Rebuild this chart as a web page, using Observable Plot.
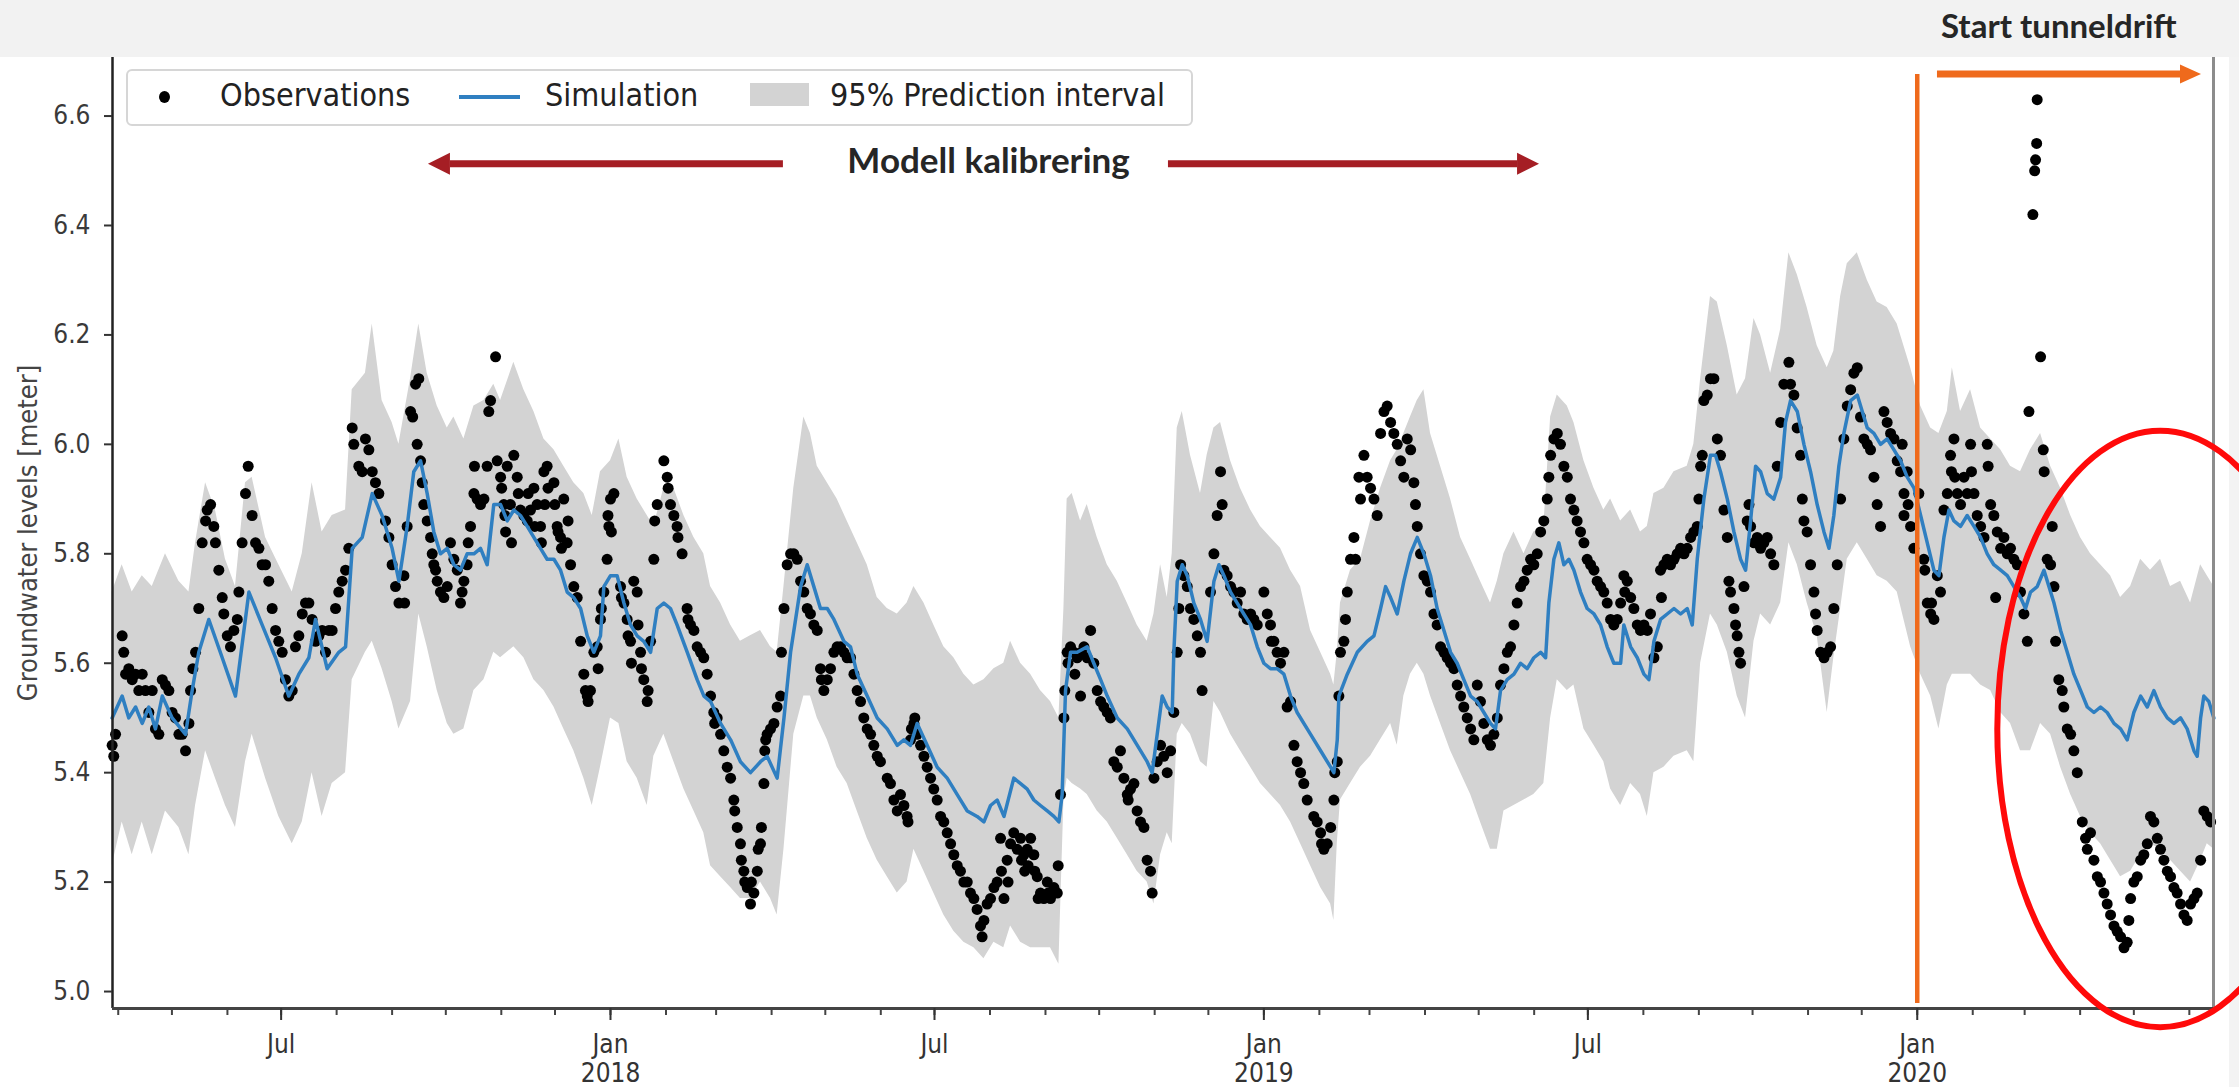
<!DOCTYPE html>
<html><head><meta charset="utf-8">
<script src="https://cdn.jsdelivr.net/npm/d3@7"></script>
<script src="https://cdn.jsdelivr.net/npm/@observablehq/plot@0.6"></script>
<style>
html,body{margin:0;padding:0;background:#fff;}
#page{position:relative;width:2239px;height:1087px;overflow:hidden;background:#fff;}
#header{position:absolute;left:0;top:0;width:2239px;height:57px;background:#f2f2f2;}
#strip{position:absolute;left:2229px;top:57px;width:10px;height:1030px;background:#f3f3f3;}
#tunnel{position:absolute;left:1941px;top:5px;font:700 33px Lato,'Liberation Sans',sans-serif;color:#262626;white-space:nowrap;}
#chart{position:absolute;left:0;top:57px;}
#chart svg text{font-stretch:condensed;}
#legend{position:absolute;left:126px;top:69px;width:1063px;height:53px;border:2px solid #d6d6d6;border-radius:6px;background:rgba(255,255,255,0.85);}
.lg{position:absolute;top:6px;font-family:'DejaVu Sans Condensed','DejaVu Sans',sans-serif;font-stretch:condensed;font-size:32px;line-height:37px;color:#222;white-space:nowrap;}
</style></head>
<body>
<div id="page">
  <div id="strip"></div>
  <div id="chart"></div>
  <div id="header"><span id="tunnel">Start tunneldrift</span></div>
  <div id="legend">
    <div style="position:absolute;left:31px;top:20px;width:11px;height:12px;border-radius:50%;background:#000"></div>
    <div class="lg" style="left:92px">Observations</div>
    <div style="position:absolute;left:331px;top:24px;width:61px;height:4px;background:#2f7fc1"></div>
    <div class="lg" style="left:417px">Simulation</div>
    <div style="position:absolute;left:622px;top:12px;width:59px;height:23px;background:#d3d3d3"></div>
    <div class="lg" style="left:702px">95% Prediction interval</div>
  </div>
</div>
<script>
// ---- time helper: values are given as days since 2018-01-01 ----
const DAY0 = Date.UTC(2018, 0, 1);
const toDate = d => new Date(DAY0 + d * 864e5);

// ---- data ----
const simulation = [
[-278.4,5.50],[-272.8,5.54],[-269.1,5.50],[-265.3,5.52],[-261.6,5.49],[-257.9,5.52],[-254.2,5.48],[-250.4,5.54],[-244.9,5.50],[-237.4,5.47],[-233.7,5.55],[-230.0,5.62],[-224.4,5.68],[-216.9,5.61],[-209.5,5.54],[-202.0,5.73],[-194.6,5.67],[-187.1,5.61],[-179.7,5.54],[-174.1,5.58],[-168.5,5.61],[-164.8,5.68],[-158.3,5.59],[-151.8,5.62],[-148.0,5.63],[-144.3,5.81],[-138.7,5.83],[-133.1,5.91],[-127.6,5.87],[-122.0,5.81],[-118.2,5.75],
[-113.6,5.85],[-109.9,5.95],[-106.1,5.97],[-102.4,5.91],[-98.7,5.84],[-95.0,5.80],[-91.2,5.81],[-87.5,5.78],[-83.8,5.77],[-80.1,5.80],[-76.3,5.80],[-72.6,5.81],[-68.9,5.78],[-65.2,5.89],[-61.4,5.89],[-57.7,5.86],[-54.0,5.88],[-50.3,5.87],[-46.5,5.85],[-42.8,5.83],[-39.1,5.81],[-35.4,5.79],[-31.6,5.79],[-27.9,5.77],[-24.2,5.73],[-20.5,5.72],[-16.7,5.70],[-13.0,5.65],[-9.3,5.62],[-5.6,5.65],[-3.7,5.74],[0.0,5.76],[3.7,5.76],[7.5,5.71],[11.2,5.67],[14.9,5.65],[18.6,5.64],[22.4,5.62],[26.1,5.70],[29.8,5.71],[33.5,5.70],[37.2,5.67],[42.9,5.62],[48.4,5.57],[52.2,5.54],
[55.9,5.53],[61.5,5.49],[67.1,5.46],[72.6,5.42],[78.2,5.40],[83.8,5.42],[87.5,5.43],[93.1,5.39],[96.9,5.50],[100.6,5.62],[106.2,5.74],[109.9,5.78],[113.6,5.74],[117.3,5.70],[121.1,5.70],[124.8,5.68],[130.4,5.64],[134.1,5.63],[137.8,5.58],[143.4,5.54],[149.0,5.50],[154.6,5.48],[160.2,5.45],[163.9,5.46],[167.6,5.45],[171.3,5.49],[176.9,5.45],[182.5,5.41],[188.1,5.39],[193.7,5.36],[199.3,5.33],[204.8,5.32],[208.6,5.31],[212.3,5.34],[216.0,5.35],[219.8,5.32],
[225.3,5.39],[229.1,5.38],[232.8,5.37],[236.5,5.35],[240.2,5.34],[244.0,5.33],[247.7,5.32],[250.5,5.31],[252.3,5.36],[254.2,5.55],[257.0,5.62],[260.7,5.62],[266.3,5.63],[270.0,5.60],[273.8,5.57],[277.5,5.54],[283.1,5.50],[288.7,5.48],[294.3,5.45],[299.8,5.42],[302.6,5.40],[305.4,5.47],[308.2,5.54],[311.0,5.52],[313.8,5.51],[314.7,5.62],[316.6,5.75],[319.4,5.78],[322.2,5.76],[325.9,5.71],[329.6,5.68],[333.3,5.64],[337.1,5.75],[339.9,5.78],[342.7,5.76],[346.4,5.73],[350.1,5.71],[353.8,5.69],[357.6,5.67],[361.3,5.63],[365.0,5.60],[368.7,5.59],[372.4,5.59],[376.2,5.58],[379.9,5.54],[383.6,5.51],
[391.1,5.47],[396.7,5.44],[402.3,5.41],[404.1,5.40],[406.0,5.46],[406.9,5.54],[411.6,5.58],[417.2,5.62],[422.7,5.64],[426.5,5.65],[430.2,5.70],[433.0,5.74],[435.8,5.72],[439.5,5.69],[443.2,5.75],[446.9,5.80],[450.7,5.83],[454.4,5.80],[458.1,5.76],[461.8,5.70],[465.6,5.66],[469.3,5.62],[473.0,5.60],[476.7,5.57],[480.5,5.54],[484.2,5.53],[487.9,5.51],[491.6,5.49],[494.4,5.48],[497.2,5.55],[500.9,5.57],[504.7,5.58],[508.4,5.60],[512.1,5.59],[515.8,5.61],[519.6,5.62],[522.4,5.61],[524.2,5.71],[527.0,5.79],[529.8,5.82],[532.6,5.78],[535.4,5.79],[538.2,5.77],[541.9,5.73],[545.6,5.70],[549.4,5.69],[553.1,5.67],
[556.8,5.63],[560.5,5.60],[564.3,5.60],[566.1,5.67],[569.9,5.63],[573.6,5.61],[577.3,5.58],[580.1,5.57],[582.9,5.64],[586.6,5.68],[590.3,5.69],[594.1,5.70],[597.8,5.69],[601.5,5.70],[604.3,5.67],[607.1,5.79],[610.8,5.90],[614.5,5.98],[617.3,5.98],[620.1,5.95],[623.9,5.90],[627.6,5.84],[631.3,5.79],[634.1,5.77],[636.9,5.86],[639.7,5.96],[642.5,5.95],[646.2,5.91],[649.9,5.90],[653.7,5.94],[656.4,6.04],[659.2,6.08],[663.0,6.06],[666.7,6.00],[670.4,5.95],[674.1,5.89],[677.9,5.84],[680.7,5.81],[683.4,5.87],[686.2,5.96],[689.0,6.02],[692.8,6.08],[696.5,6.09],[699.3,6.06],[702.1,6.03],[705.8,6.02],[709.5,6.00],[713.2,6.01],[717.0,5.99],[720.7,5.97],
[724.4,5.94],[728.2,5.92],[731.9,5.87],[735.6,5.82],[739.3,5.77],[742.1,5.76],[744.9,5.83],[747.7,5.88],[750.5,5.86],[754.2,5.85],[757.9,5.87],[761.7,5.85],[765.4,5.83],[769.1,5.80],[772.8,5.78],[776.6,5.77],[780.3,5.76],[784.0,5.74],[787.7,5.72],[790.5,5.70],[793.3,5.73],[797.0,5.74],[800.8,5.77],[803.6,5.74],[806.4,5.71],[810.1,5.66],[813.8,5.62],[817.5,5.58],[821.3,5.55],[825.0,5.52],[828.7,5.51],[832.4,5.52],[836.1,5.51],[839.9,5.49],[843.6,5.48],[847.3,5.46],[851.0,5.51],[854.8,5.54],[858.5,5.52],[862.2,5.55],[865.9,5.52],[869.7,5.50],[873.4,5.49],[877.1,5.50],[880.8,5.48],[884.6,5.44],[886.4,5.43],[888.3,5.50],[890.1,5.54],[892.9,5.53],[895.7,5.50]
];

// [day, lower, upper] of the 95% prediction interval
const interval = [
[-278.4,5.23,5.73],[-272.8,5.31,5.78],[-267.2,5.25,5.73],[-261.6,5.31,5.76],[-256.0,5.25,5.74],[-248.6,5.33,5.80],[-241.1,5.30,5.75],[-235.5,5.25,5.73],[-231.8,5.34,5.82],[-226.2,5.44,5.93],[-220.7,5.39,5.88],[-215.1,5.34,5.79],[-209.5,5.30,5.74],[-203.9,5.42,5.93],[-200.2,5.47,5.94],[-192.7,5.39,5.83],[-185.3,5.32,5.78],[-177.8,5.27,5.73],[-172.2,5.31,5.80],[-166.7,5.40,5.93],[-161.1,5.32,5.84],[-155.5,5.38,5.87],[-148.0,5.40,5.88],[-144.3,5.57,6.10],[-136.9,5.62,6.13],[-133.1,5.64,6.22],[-127.6,5.59,6.08],[-122.0,5.53,6.04],[-118.2,5.48,6.00],
[-111.7,5.53,6.12],[-107.1,5.69,6.22],[-102.4,5.63,6.13],[-96.8,5.55,6.07],[-91.2,5.49,6.03],[-87.5,5.47,6.05],[-81.9,5.48,6.01],[-76.3,5.55,6.07],[-70.7,5.57,6.08],[-65.2,5.62,6.11],[-61.4,5.61,6.08],[-54.0,5.63,6.15],[-48.4,5.61,6.10],[-42.8,5.57,6.06],[-37.2,5.55,6.01],[-31.6,5.52,5.99],[-26.1,5.48,5.96],[-20.5,5.44,5.93],[-14.9,5.39,5.91],[-10.2,5.34,5.87],[-5.6,5.41,5.95],[0.0,5.50,5.97],[4.7,5.49,6.01],[9.3,5.42,5.94],[14.9,5.39,5.90],[20.5,5.34,5.87],[24.2,5.43,5.85],[29.8,5.47,5.92],[35.4,5.42,5.92],[41.0,5.37,5.87],[46.6,5.33,5.83],[52.1,5.29,5.80],
[55.9,5.23,5.74],[61.5,5.21,5.71],[67.1,5.19,5.67],[72.6,5.17,5.64],[78.2,5.17,5.65],[83.8,5.20,5.66],[89.4,5.17,5.63],[93.1,5.14,5.62],[96.9,5.26,5.74],[102.4,5.47,5.92],[108.0,5.54,6.05],[111.7,5.54,6.02],[115.5,5.50,5.96],[121.1,5.46,5.93],[126.6,5.41,5.90],[132.2,5.38,5.86],[137.8,5.33,5.82],[143.4,5.28,5.78],[149.0,5.24,5.72],[154.6,5.21,5.70],[160.2,5.18,5.69],[165.7,5.20,5.71],[169.5,5.26,5.74],[175.1,5.22,5.71],[180.6,5.18,5.67],[186.2,5.14,5.63],[191.8,5.11,5.61],[197.4,5.09,5.58],[203.0,5.08,5.56],[208.6,5.06,5.57],[214.2,5.09,5.59],[219.7,5.08,5.60],
[223.5,5.12,5.64],[229.1,5.09,5.60],[234.7,5.08,5.58],[240.2,5.08,5.55],[245.8,5.08,5.53],[250.5,5.05,5.50],[253.3,5.35,5.70],[255.1,5.39,5.90],[257.9,5.38,5.91],[262.6,5.37,5.86],[266.3,5.36,5.89],[271.9,5.33,5.83],[277.5,5.31,5.78],[283.1,5.28,5.75],[288.7,5.25,5.71],[294.2,5.22,5.67],[299.8,5.20,5.64],[303.6,5.16,5.69],[307.3,5.25,5.78],[311.0,5.29,5.72],[313.8,5.27,5.80],[316.6,5.47,6.03],[319.4,5.49,6.06],[324.0,5.47,5.98],[329.6,5.42,5.91],[333.3,5.41,5.98],[337.1,5.53,6.03],[340.8,5.51,6.04],[346.4,5.47,5.97],[351.9,5.44,5.92],[357.6,5.41,5.88],[363.1,5.38,5.85],[368.7,5.36,5.83],[374.3,5.34,5.81],[379.9,5.31,5.77],[385.5,5.27,5.74],
[391.1,5.23,5.66],[396.7,5.19,5.62],[402.3,5.16,5.58],[404.1,5.13,5.56],[406.0,5.27,5.62],[407.8,5.35,5.71],[413.4,5.38,5.77],[419.0,5.41,5.79],[424.6,5.43,5.86],[430.2,5.46,5.92],[435.8,5.49,5.97],[439.5,5.45,5.99],[443.2,5.54,6.02],[446.9,5.58,6.05],[450.7,5.60,6.08],[454.4,5.58,6.10],[458.1,5.54,6.02],[463.7,5.49,5.96],[469.3,5.44,5.90],[474.9,5.40,5.83],[480.5,5.36,5.79],[486.0,5.31,5.75],[491.6,5.26,5.71],[495.4,5.26,5.75],[499.1,5.33,5.80],[504.7,5.34,5.84],[510.3,5.35,5.80],[515.8,5.36,5.84],[521.4,5.38,5.85],[525.2,5.50,6.05],[528.9,5.57,6.09],[534.5,5.55,6.07],[538.2,5.56,6.04],[543.8,5.48,5.97],[549.4,5.45,5.92],[554.9,5.42,5.88],
[558.7,5.37,5.90],[564.3,5.34,5.86],[569.9,5.38,5.88],[575.4,5.36,5.84],[579.2,5.32,5.85],[582.9,5.40,5.91],[588.5,5.41,5.92],[594.1,5.43,5.95],[601.5,5.44,5.96],[605.2,5.42,6.00],[609.0,5.60,6.12],[614.5,5.69,6.27],[618.3,5.67,6.26],[623.9,5.62,6.18],[629.4,5.54,6.09],[634.1,5.50,6.12],[638.8,5.64,6.23],[642.5,5.69,6.20],[648.1,5.67,6.13],[653.7,5.71,6.21],[658.3,5.82,6.35],[663.0,5.78,6.31],[668.5,5.71,6.25],[674.1,5.65,6.18],[679.7,5.51,6.14],[683.4,5.61,6.17],[687.2,5.70,6.27],[690.9,5.79,6.33],[696.5,5.82,6.35],[702.1,5.79,6.30],[707.6,5.76,6.26],[713.2,5.75,6.25],[718.8,5.73,6.22],
[726.3,5.63,6.14],[731.9,5.58,6.07],[737.5,5.54,6.03],[742.1,5.48,6.02],[746.8,5.56,6.06],[749.6,5.58,6.14],[754.2,5.58,6.06],[759.8,5.58,6.10],[765.4,5.56,6.03],[771.0,5.55,6.01],[776.6,5.51,5.99],[782.1,5.49,5.96],[787.7,5.44,5.95],[793.3,5.44,5.99],[798.9,5.49,6.02],[804.5,5.47,5.96],[810.1,5.41,5.92],[815.7,5.36,5.87],[821.2,5.32,5.83],[826.8,5.29,5.80],[832.4,5.27,5.78],[838.0,5.24,5.76],[843.6,5.21,5.72],[849.2,5.22,5.74],[854.8,5.25,5.79],[860.3,5.27,5.77],[865.9,5.26,5.79],[871.5,5.24,5.74],[877.1,5.22,5.75],[882.7,5.20,5.71],[888.3,5.24,5.78],[892.0,5.27,5.76],[895.7,5.26,5.74]
];

const observations = [
[-278.4,5.45],[-277.5,5.43],[-276.5,5.47],[-272.8,5.65],[-271.9,5.62],[-270.9,5.58],[-269.1,5.59],[-267.2,5.57],[-265.3,5.58],[-263.5,5.55],[-261.6,5.58],[-259.8,5.55],[-257.9,5.51],[-256.0,5.55],[-254.2,5.48],[-252.3,5.47],[-250.4,5.57],[-248.6,5.56],[-246.7,5.55],[-244.9,5.51],[-243.0,5.50],[-241.1,5.47],[-239.3,5.47],[-237.4,5.44],[-235.5,5.49],[-234.6,5.55],[-233.3,5.59],[-231.8,5.62],[-230.0,5.70],[-228.1,5.82],[-226.2,5.86],[-225.3,5.88],[-223.4,5.89],[-221.6,5.85],[-220.7,5.82],[-218.8,5.77],[-216.9,5.72],[-216.0,5.69],[-214.1,5.65],[-212.3,5.63],[-210.4,5.66],[-208.5,5.68],[-207.6,5.73],[-205.8,5.82],[-203.9,5.91],[-202.4,5.96],[-200.2,5.87],[-198.3,5.82],[-196.4,5.81],[-194.6,5.78],[-192.7,5.78],[-190.9,5.75],[-189.0,5.70],[-187.1,5.66],[-185.3,5.64],[-183.4,5.62],[-181.6,5.57],[-179.7,5.54],[-177.8,5.55],[-176.0,5.63],[-174.1,5.65],[-172.2,5.69],[-170.4,5.71],[-168.5,5.71],[-166.7,5.68],[-164.8,5.64],[-162.9,5.65],[-161.1,5.66],[-159.2,5.62],[-157.3,5.66],[-155.5,5.66],[-153.6,5.70],[-151.8,5.73],[-149.9,5.75],[-148.0,5.77],[-146.2,5.81],[-144.3,6.03],[-143.4,6.00],[-140.6,5.96],[-138.7,5.95],[-136.9,6.01],[-135.0,5.99],[-133.1,5.95],[-131.3,5.93],[-129.4,5.91],[-125.7,5.86],[-123.8,5.83],[-122.0,5.78],[-120.1,5.74],[-118.2,5.71],
[-115.4,5.76],[-115.0,5.71],[-113.6,5.85],[-111.7,6.06],[-110.5,6.05],[-108.9,6.11],[-108.0,6.00],[-107.1,6.12],[-106.1,5.97],[-105.2,5.93],[-104.3,5.89],[-102.4,5.86],[-100.5,5.83],[-99.6,5.80],[-98.7,5.78],[-97.7,5.77],[-96.8,5.75],[-95.0,5.73],[-93.1,5.72],[-91.2,5.74],[-89.4,5.82],[-87.5,5.79],[-85.6,5.77],[-83.8,5.71],[-82.9,5.73],[-81.9,5.75],[-80.1,5.78],[-79.5,5.82],[-78.2,5.85],[-76.3,5.91],[-76.0,5.96],[-74.5,5.90],[-72.6,5.89],[-70.7,5.90],[-68.9,5.96],[-68.0,6.06],[-67.0,6.08],[-64.2,6.16],[-63.3,5.97],[-61.4,5.94],[-60.8,5.92],[-59.6,5.89],[-59.0,5.87],[-58.6,5.84],[-57.7,5.96],[-55.9,5.89],[-55.3,5.82],[-54.0,5.98],[-52.1,5.94],[-51.5,5.91],[-50.3,5.88],[-48.4,5.87],[-46.5,5.86],[-46.0,5.91],[-44.7,5.88],[-42.8,5.92],[-42.3,5.85],[-41.0,5.89],[-39.1,5.85],[-38.6,5.82],[-37.2,5.95],[-36.7,5.89],[-35.4,5.96],[-34.9,5.92],[-31.6,5.93],[-31.1,5.89],[-29.8,5.85],[-29.3,5.84],[-27.9,5.83],[-27.4,5.81],[-26.1,5.90],[-24.2,5.82],[-23.7,5.86],[-22.3,5.78],[-20.5,5.74],[-18.6,5.72],[-16.7,5.64],[-14.9,5.58],[-14.0,5.55],[-13.0,5.54],[-12.5,5.53],[-11.2,5.55],[-9.3,5.62],[-7.4,5.63],[-6.9,5.59],[-5.6,5.68],[-5.1,5.70],[-3.7,5.73],[-1.9,5.79],[-1.4,5.87],[-0.9,5.85],[0.0,5.90],[0.5,5.84],[1.9,5.91],[5.6,5.74],[6.1,5.72],[7.5,5.71],[9.3,5.68],[9.8,5.65],[11.2,5.64],[11.7,5.60],[13.0,5.75],[14.9,5.73],[15.4,5.67],[16.8,5.62],[17.3,5.59],[18.6,5.57],[20.5,5.53],[21.0,5.55],[22.4,5.64],[24.2,5.79],[24.7,5.86],[26.1,5.89],[29.8,5.97],[31.7,5.94],[32.2,5.92],[33.5,5.89],[35.4,5.87],[37.2,5.85],[37.7,5.83],[40.0,5.80],[42.8,5.70],[43.3,5.68],[44.7,5.67],[46.6,5.66],[48.4,5.63],[50.3,5.62],[52.1,5.61],[54.0,5.58],
[55.9,5.54],[57.7,5.51],[58.2,5.49],[59.6,5.50],[61.5,5.47],[63.3,5.44],[65.2,5.41],[67.1,5.39],[68.9,5.35],[69.4,5.33],[70.8,5.30],[72.6,5.27],[73.1,5.24],[74.5,5.22],[75.0,5.20],[76.4,5.19],[78.2,5.16],[78.7,5.20],[80.1,5.18],[82.0,5.22],[82.5,5.26],[83.8,5.27],[84.3,5.30],[85.7,5.38],[86.2,5.44],[86.7,5.46],[87.5,5.47],[89.4,5.48],[91.3,5.49],[93.1,5.52],[95.0,5.54],[95.5,5.62],[96.9,5.70],[98.7,5.78],[100.6,5.80],[102.4,5.80],[104.3,5.79],[106.2,5.75],[108.0,5.73],[109.9,5.70],[111.7,5.69],[113.6,5.67],[115.5,5.66],[117.3,5.59],[117.8,5.57],[119.2,5.55],[121.1,5.57],[122.9,5.59],[124.8,5.62],[126.6,5.63],[128.5,5.63],[130.4,5.62],[132.2,5.61],[134.1,5.61],[136.0,5.58],[137.8,5.55],[139.7,5.53],[141.5,5.50],[143.4,5.48],[145.3,5.47],[147.1,5.45],[149.0,5.43],[150.8,5.42],[154.6,5.39],[156.4,5.38],[158.3,5.35],[160.2,5.33],[162.0,5.36],[163.9,5.34],[165.7,5.32],[166.2,5.31],[167.6,5.46],[168.1,5.48],[169.5,5.49],[170.0,5.50],[171.3,5.47],[173.2,5.45],[175.1,5.43],[176.9,5.41],[178.8,5.39],[180.6,5.37],[182.5,5.35],[184.4,5.32],[186.2,5.31],[188.1,5.29],[190.0,5.27],[191.8,5.25],[193.7,5.23],[195.5,5.22],[197.4,5.20],[199.3,5.20],[201.1,5.18],[203.0,5.17],[204.8,5.15],[206.7,5.12],[207.6,5.10],[208.6,5.13],[210.4,5.16],[212.3,5.17],[214.2,5.19],[216.0,5.20],
[217.9,5.28],[218.4,5.22],[219.8,5.17],[221.6,5.24],[222.1,5.20],[223.5,5.27],[225.3,5.29],[227.2,5.26],[229.1,5.28],[229.6,5.24],[230.9,5.25],[231.4,5.22],[232.8,5.26],[233.3,5.23],[234.7,5.28],[236.5,5.25],[237.0,5.22],[238.4,5.21],[238.9,5.17],[240.2,5.18],[242.1,5.17],[244.0,5.20],[244.5,5.18],[245.8,5.17],[247.7,5.19],[249.6,5.18],[250.1,5.23],[251.4,5.36],[253.3,5.50],[253.8,5.55],[255.1,5.62],[255.6,5.60],[257.0,5.63],[258.9,5.62],[259.4,5.58],[260.7,5.61],[262.6,5.54],[263.1,5.62],[264.5,5.63],[266.3,5.61],[268.2,5.66],[270.0,5.60],[271.9,5.55],[273.8,5.53],[275.6,5.52],[277.5,5.51],[279.3,5.50],[281.2,5.42],[283.1,5.41],[284.9,5.44],[286.8,5.39],[288.7,5.36],[289.2,5.35],[290.5,5.37],[292.4,5.38],[294.2,5.33],[296.1,5.31],[298.0,5.30],[299.8,5.24],[301.7,5.22],[302.6,5.18],[303.6,5.39],[305.4,5.42],[307.3,5.45],[309.1,5.43],[311.0,5.40],[312.9,5.44],[314.7,5.51],[316.6,5.62],[317.5,5.70],[318.5,5.78],[320.3,5.76],[322.2,5.74],[324.0,5.70],[325.9,5.68],[327.8,5.65],[329.6,5.62],[330.5,5.55],[335.2,5.73],[337.1,5.80],[338.9,5.87],[340.8,5.95],[341.7,5.89],[342.7,5.77],[344.5,5.76],[346.4,5.74],[348.2,5.73],[350.1,5.71],[352.0,5.73],[353.8,5.69],[355.7,5.68],[357.6,5.69],[359.4,5.68],[361.3,5.67],[365.0,5.73],[366.9,5.69],[368.7,5.67],[369.2,5.64],[370.6,5.64],[372.4,5.62],[374.3,5.60],[376.2,5.62],[378.0,5.52],[379.9,5.53],[381.8,5.45],[383.6,5.42],[385.5,5.40],[387.3,5.38],[389.2,5.35],
[392.9,5.32],[394.8,5.31],[396.7,5.29],[397.2,5.27],[398.5,5.26],[400.4,5.27],[402.3,5.30],[404.1,5.35],[404.6,5.40],[406.0,5.42],[406.9,5.54],[407.8,5.62],[409.7,5.64],[410.6,5.68],[411.6,5.73],[413.4,5.79],[415.3,5.83],[416.2,5.79],[418.1,5.94],[419.0,5.90],[420.9,5.98],[422.7,5.94],[424.6,5.92],[426.5,5.90],[428.3,5.87],[430.2,6.02],[432.1,6.06],[433.9,6.07],[435.8,6.04],[437.6,6.02],[439.5,6.00],[441.4,5.97],[443.2,5.94],[445.1,6.01],[447.0,5.99],[448.8,5.93],[449.7,5.89],[450.7,5.85],[452.5,5.80],[454.4,5.76],[456.3,5.75],[458.1,5.73],[460.0,5.69],[461.8,5.67],[463.7,5.63],[465.6,5.62],[467.4,5.61],[469.3,5.60],[471.2,5.59],[473.0,5.56],[474.9,5.54],[476.7,5.52],[478.6,5.50],[480.5,5.48],[482.3,5.46],[484.2,5.56],[486.0,5.53],[487.9,5.49],[489.8,5.46],[491.6,5.45],[493.5,5.47],[495.4,5.50],[497.2,5.56],[499.1,5.59],[501.0,5.62],[502.8,5.63],[504.7,5.67],[506.5,5.71],[508.4,5.74],[510.3,5.75],[512.1,5.77],[514.0,5.79],[515.8,5.78],[517.7,5.80],[519.6,5.84],[521.4,5.86],[523.3,5.90],[524.2,5.94],[525.2,5.98],[527.0,6.01],[528.9,6.02],[530.7,6.00],[532.6,5.96],[534.5,5.94],[536.3,5.90],[538.2,5.88],[540.0,5.86],[541.9,5.84],[543.8,5.82],[545.6,5.79],[547.5,5.78],[549.4,5.77],[551.2,5.75],[553.1,5.74],[554.9,5.73],[556.8,5.71],
[558.7,5.68],[560.5,5.67],[562.4,5.68],[564.3,5.71],[566.1,5.76],[566.6,5.73],[568.0,5.75],[569.9,5.72],[571.7,5.70],[573.6,5.67],[575.4,5.66],[577.3,5.67],[579.2,5.66],[581.0,5.69],[582.9,5.61],[584.8,5.63],[586.6,5.77],[587.1,5.72],[588.5,5.78],[590.3,5.79],[592.2,5.78],[594.1,5.79],[595.9,5.80],[597.8,5.81],[599.7,5.80],[601.5,5.81],[603.4,5.83],[605.2,5.84],[607.1,5.85],[608.0,5.90],[609.0,5.96],[609.9,5.98],[610.8,6.08],[612.7,6.09],[614.5,6.12],[616.4,6.12],[618.3,6.01],[620.1,5.98],[622.0,5.88],[623.9,5.83],[624.8,5.75],[625.7,5.73],[627.6,5.70],[628.5,5.67],[629.4,5.65],[630.4,5.62],[631.3,5.60],[633.2,5.74],[635.0,5.86],[636.0,5.89],[636.9,5.85],[638.8,5.82],[640.6,5.83],[642.5,5.81],[644.3,5.82],[646.2,5.83],[648.1,5.80],[649.9,5.78],[651.8,5.96],[653.7,6.04],[655.5,6.11],[658.3,6.15],[659.2,6.11],[661.1,6.09],[662.9,6.03],[664.8,5.98],[665.8,5.90],[666.7,5.86],[668.5,5.84],[670.4,5.78],[672.3,5.73],[673.2,5.69],[674.1,5.66],[676.0,5.62],[677.9,5.61],[679.7,5.62],[681.6,5.63],[683.4,5.70],[685.3,5.78],[687.2,5.90],[689.0,6.01],[690.9,6.07],[692.8,6.10],[694.6,6.13],[696.5,6.14],[698.3,6.05],[700.2,6.01],[702.1,6.00],[703.9,5.99],[705.8,5.94],[707.6,5.89],[709.5,5.85],[711.4,6.06],[713.2,6.04],[715.1,6.02],[717.0,6.01],[718.8,5.97],[720.7,5.95],
[721.6,6.00],[722.6,5.91],[722.6,5.87],[724.4,5.95],[724.9,5.89],[726.3,5.85],[728.1,5.81],[730.9,5.91],[733.7,5.79],[734.2,5.77],[735.6,5.71],[737.5,5.69],[738.0,5.71],[739.3,5.68],[741.2,5.76],[743.0,5.73],[744.9,5.88],[746.8,5.91],[748.6,5.98],[749.1,5.95],[750.5,6.01],[751.0,5.94],[752.4,5.91],[754.2,5.89],[756.1,5.94],[757.9,5.91],[759.8,6.00],[760.3,5.95],[761.7,5.91],[763.5,5.87],[765.4,5.85],[767.3,5.83],[769.1,6.00],[769.6,5.96],[771.0,5.89],[772.8,5.87],[773.8,5.72],[774.7,5.84],[776.6,5.81],[778.4,5.83],[780.3,5.80],[782.1,5.81],[784.0,5.79],[785.9,5.78],[787.7,5.73],[789.6,5.69],[791.5,5.64],[792.4,6.06],[794.6,6.42],[795.6,6.50],[796.1,6.52],[796.7,6.55],[797.0,6.63],[798.9,6.16],[800.4,5.99],[800.9,5.95],[802.6,5.79],[804.5,5.78],[805.4,5.85],[806.4,5.74],[807.3,5.64],[809.1,5.57],[811.0,5.55],[811.9,5.52],[813.8,5.48],[815.7,5.47],[817.5,5.44],[819.4,5.40],[822.2,5.31],[824.0,5.28],[825.0,5.26],[826.8,5.29],[828.7,5.24],[830.6,5.21],[832.4,5.20],[834.3,5.18],[836.1,5.16],[838.0,5.14],[839.9,5.12],[841.7,5.11],[843.6,5.10],[845.5,5.08],[847.3,5.09],[848.2,5.13],[849.2,5.17],[851.0,5.20],[852.9,5.21],[854.8,5.24],[856.6,5.25],[858.5,5.27],[860.3,5.32],[862.2,5.31],[864.1,5.28],[865.9,5.26],[867.8,5.24],[869.7,5.22],[871.5,5.21],[873.4,5.19],[875.2,5.18],[877.1,5.16],[879.0,5.14],[880.8,5.13],[882.7,5.16],[884.6,5.17],[886.4,5.18],[888.3,5.24],[890.1,5.33],[892.0,5.32],[893.9,5.31]
];

// ---- axes / ticks ----
const xDomainDays = [-278.2, 895.5];
const yDomain = [4.969, 6.707];
const yTickValues = [5.0, 5.2, 5.4, 5.6, 5.8, 6.0, 6.2, 6.4, 6.6];
const yTickLabels = ["5.0", "5.2", "5.4", "5.6", "5.8", "6.0", "6.2", "6.4", "6.6"];
const xMajorTicks = ["2017-07-01", "2018-01-01", "2018-07-01", "2019-01-01", "2019-07-01", "2020-01-01"];
const xMajorLabels = ["Jul", "Jan\n2018", "Jul", "Jan\n2019", "Jul", "Jan\n2020"];
const yAxisTitle = "Groundwater levels [meter]";

// ---- annotations (data space) ----
const calibrationLabel = "Modell kalibrering";
const calibrationTextAt = {day: 211.2, value: 6.517};
const calibrationArrows = [{from: 96.6, to: -101.7, value: 6.512}, {from: 311.7, to: 519.0, value: 6.512}];
const tunnelStartDay = 730;              // 2020-01-01
const tunnelRule = {from: 4.978, to: 6.676};
const tunnelArrow = {from: 741.3, to: 888.8, value: 6.676};
const highlight = {day: 866, value: 5.479, halfDays: 91, halfValue: 0.545};

const FONT = "'DejaVu Sans Condensed','DejaVu Sans',sans-serif";
const majorDates = xMajorTicks.map(s => new Date(s + "T00:00:00Z"));
const minorDates = d3.utcMonth.range(toDate(xDomainDays[0]), toDate(xDomainDays[1]));
const majorLabel = d => { const i = majorDates.findIndex(m => +m === +d); return i < 0 ? "" : xMajorLabels[i]; };

const marks = [
  Plot.areaY(interval, {x: d => toDate(d[0]), y1: d => d[1], y2: d => d[2], fill: "#d3d3d3"}),
  Plot.dot(observations, {x: d => toDate(d[0]), y: d => d[1], r: 5.5, fill: "#000"}),
  Plot.line(simulation, {x: d => toDate(d[0]), y: d => d[1], stroke: "#2f7fc1", strokeWidth: 3.5}),
  Plot.ruleX([toDate(xDomainDays[0])], {stroke: "#222", strokeWidth: 2.5}),
  Plot.ruleX([toDate(xDomainDays[1])], {stroke: "#8c8c8c", strokeWidth: 3}),
  Plot.ruleY([yDomain[0]], {stroke: "#444", strokeWidth: 3}),
  Plot.axisY(yTickValues, {tickFormat: d => yTickLabels[yTickValues.indexOf(d)], tickSize: 8, tickPadding: 14, fontSize: 26, stroke: "#333", fill: "#3a3a3a", strokeWidth: 2, label: null}),
  Plot.axisX(minorDates, {tickFormat: () => "", tickSize: 7, stroke: "#444", strokeWidth: 2, label: null}),
  Plot.axisX(majorDates, {tickFormat: majorLabel, tickSize: 12, tickPadding: 12, fontSize: 26, lineHeight: 1.12, stroke: "#333", fill: "#333", strokeWidth: 2, label: null}),
  Plot.text([yAxisTitle], {frameAnchor: "left", textAnchor: "middle", text: d => d, dx: -84, dy: 0, rotate: -90, fontSize: 27, fill: "#444"}),
  Plot.ruleX([tunnelStartDay], {x: d => toDate(d), y1: tunnelRule.from, y2: tunnelRule.to, stroke: "#ef6a1c", strokeWidth: 4.5}),
  Plot.text([calibrationLabel], {x: toDate(calibrationTextAt.day), y: calibrationTextAt.value, text: d => d, fontSize: 35, fontWeight: "bold", fontFamily: "Lato, 'Liberation Sans', sans-serif", fill: "#262626"})
];

const chart = Plot.plot({
  width: 2239, height: 1030,
  marginLeft: 112, marginRight: 26, marginTop: 0, marginBottom: 79,
  x: {type: "utc", domain: [toDate(xDomainDays[0]), toDate(xDomainDays[1])]},
  y: {domain: yDomain},
  style: {fontFamily: FONT, fontSize: "26px", background: "transparent", overflow: "visible"},
  marks
});
document.getElementById("chart").append(chart);

// arrows and the highlight ellipse, positioned through the plot's own scales
const sx = chart.scale("x"), sy = chart.scale("y");
const X = sx.apply ? v => sx.apply(v) : d3.scaleUtc(sx.domain, sx.range);
const Y = sy.apply ? v => sy.apply(v) : d3.scaleLinear(sy.domain, sy.range);
const g = d3.select(chart).append("g");
function arrow(a, color, width, headLen, headHalf) {
  const x1 = X(toDate(a.from)), x2 = X(toDate(a.to)), y = Y(a.value);
  const dir = Math.sign(x2 - x1), xb = x2 - dir * headLen;
  g.append("line").attr("x1", x1).attr("x2", xb).attr("y1", y).attr("y2", y).attr("stroke", color).attr("stroke-width", width);
  g.append("path").attr("d", `M${x2},${y}L${xb},${y - headHalf}L${xb},${y + headHalf}Z`).attr("fill", color);
}
calibrationArrows.forEach(a => arrow(a, "#a51e24", 7, 22, 11));
arrow(tunnelArrow, "#ef6a1c", 7, 21, 9.5);
const cx = X(toDate(highlight.day)), cy = Y(highlight.value);
g.append("ellipse").attr("cx", cx).attr("cy", cy)
  .attr("rx", X(toDate(highlight.day + highlight.halfDays)) - cx)
  .attr("ry", Y(highlight.value - highlight.halfValue) - cy)
  .attr("fill", "none").attr("stroke", "#ff0a0a").attr("stroke-width", 6);
</script>
</body></html>
